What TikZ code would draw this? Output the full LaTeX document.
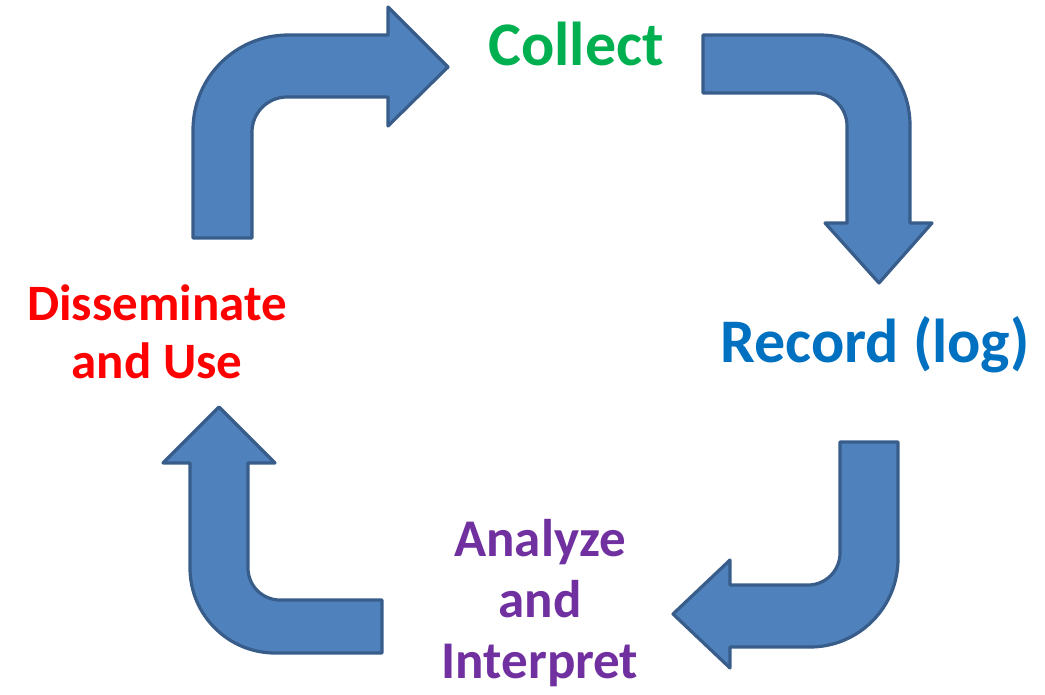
\documentclass[tikz,border=0pt]{standalone}
\usepackage{fontspec}
\setmainfont{Carlito}
\definecolor{arrowfill}{HTML}{4F81BD}
\definecolor{arrowline}{HTML}{385D8A}
\definecolor{collectgreen}{HTML}{00B050}
\definecolor{recordblue}{HTML}{0070C0}
\definecolor{analyzepurple}{HTML}{7030A0}

\begin{document}
\begin{tikzpicture}[x=1pt,y=-1pt,
  bent/.style={fill=arrowfill,draw=arrowline,line width=\lw,line join=round},
  big/.style={font=\bfseries\fontsize{62}{70}\selectfont,inner sep=0pt,anchor=base},
  twoline/.style={font=\bfseries\fontsize{51}{58}\selectfont,inner sep=0pt,anchor=base,align=center},
  threeline/.style={font=\bfseries\fontsize{53}{61}\selectfont,inner sep=0pt,anchor=base,align=center}]
%
\def\lw{3.2pt};
%
\useasboundingbox (0,0) rectangle (1045,694);
%
% up and right
\draw[bent] (193,238) -- (193,130) .. controls (193,77.5) and (235.5,35) .. (288,35)
  -- (388,35) -- (388,7) -- (448,67) -- (388,126) -- (388,97) -- (287,97)
  .. controls (267.7,97) and (252,112.7) .. (252,132) -- (252,238) -- cycle;
% right and down
\draw[bent] (703,35) -- (820,35) .. controls (869.7,35) and (910,75.3) .. (910,125)
  -- (910,223) -- (932,223) -- (879,283) -- (825,223) -- (847,223) -- (847,126)
  .. controls (847,107.8) and (832.2,93) .. (814,93) -- (703,93) -- cycle;
% down and left
\draw[bent] (840,442) -- (898,442) -- (898,559) .. controls (898,607.6) and (858.6,647) .. (810,647)
  -- (730,647) -- (730,668) -- (673,614) -- (730,560) -- (730,585) -- (808,585)
  .. controls (825.7,585) and (840,570.7) .. (840,553) -- cycle;
% left and up
\draw[bent] (382,600) -- (382,653) -- (275,653) .. controls (228.1,653) and (190,614.9) .. (190,568)
  -- (190,463) -- (163,463) -- (219,407) -- (275,463) -- (248,463) -- (248,568)
  .. controls (248,585.7) and (262.3,600) .. (280,600) -- cycle;
%
% base of a several-line node is its last line
\node[big,text=collectgreen] (collect) at (576,65) {Collect};
\node[big,text=recordblue] (record) at (875,362) {Record (log)};
\node[twoline,text=red] (dissem) at (157,378) {Disseminate\\and Use};
\node[threeline,text=analyzepurple] (analyze) at (540,678) {Analyze\\and\\Interpret};
%
\end{tikzpicture}
\end{document}
